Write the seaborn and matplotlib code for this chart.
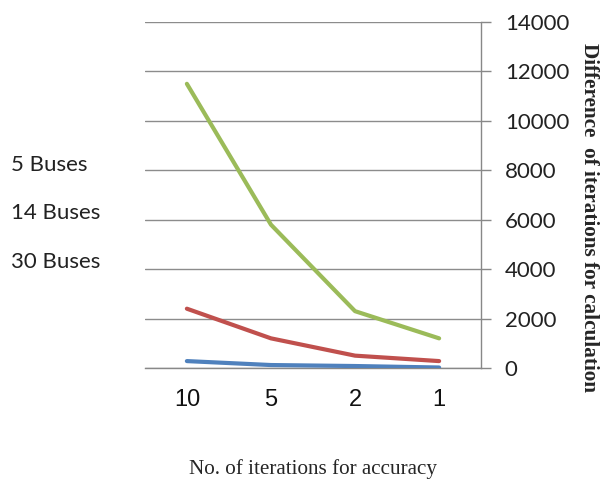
import matplotlib
matplotlib.use('Agg')
import matplotlib.pyplot as plt
import pandas as pd
import seaborn as sns
from matplotlib.ticker import FixedLocator, NullFormatter

accuracy = ['10', '5', '2', '1']
buses_5 = [280, 120, 80, 20]
buses_14 = [2400, 1200, 500, 280]
buses_30 = [11500, 5800, 2300, 1200]
series_names = ['5 Buses', '14 Buses', '30 Buses']
colors = ['#4F81BD', '#C0504D', '#9BBB59']
y_ticks = [0, 2000, 4000, 6000, 8000, 10000, 12000, 14000]

sns.set_style('white')
plt.rcParams['font.family'] = ['Lato', 'DejaVu Sans']

df = pd.DataFrame({
    'pos': list(range(len(accuracy))) * 3,
    'value': buses_5 + buses_14 + buses_30,
    'series': [s for s in series_names for _ in accuracy],
})

fig = plt.figure(figsize=(6.06, 4.82), dpi=100)
ax = fig.add_axes([0.239, 0.2365, 0.555, 0.7178])

sns.lineplot(data=df, x='pos', y='value', hue='series', hue_order=series_names,
             palette=colors, linewidth=3, ax=ax, zorder=3)

# y axis on the right, Excel style
ax.yaxis.tick_right()
ax.yaxis.set_label_position('right')
ax.set_ylim(0, 14000)
ax.set_yticks(y_ticks)
ax.set_yticklabels([str(t) for t in y_ticks], fontsize=16, color='#222222')
ax.tick_params(axis='y', direction='out', length=7, width=1, color='#888888', pad=10)
ax.grid(axis='y', color='#8c8c8c', linewidth=1)

# category axis with ticks between categories
ax.set_xlim(-0.5, len(accuracy) - 0.5)
ax.xaxis.set_major_locator(FixedLocator([i - 0.5 for i in range(len(accuracy) + 1)]))
ax.xaxis.set_major_formatter(NullFormatter())
ax.xaxis.set_minor_locator(FixedLocator(list(range(len(accuracy)))))
ax.set_xticklabels(accuracy, minor=True, fontsize=17, color='#111111',
                   family='Liberation Sans')
ax.tick_params(axis='x', which='major', direction='out', length=8, width=1, color='#888888')
ax.tick_params(axis='x', which='minor', length=0, pad=15)

for side in ['left', 'top']:
    ax.spines[side].set_visible(False)
for side in ['right', 'bottom']:
    ax.spines[side].set_color('#888888')
    ax.spines[side].set_linewidth(1)

ax.set_xlabel('No. of iterations for accuracy', fontsize=15.2, family='Liberation Serif')
ax.xaxis.set_label_coords(0.5, -0.262)
ax.set_ylabel('Difference  of iterations for calculation', fontsize=15.3,
              family='Liberation Serif', fontweight='bold', rotation=-90)
ax.yaxis.set_label_coords(1.35, 0.434)

leg = ax.legend(loc='upper left', bbox_to_anchor=(0.0, 0.7025), bbox_transform=fig.transFigure,
                frameon=False, handlelength=0, handletextpad=0, fontsize=16,
                labelspacing=1.3, borderpad=0)
for h in leg.legend_handles:
    h.set_visible(False)
for t in leg.get_texts():
    t.set_color('#222222')

fig.savefig('out.png', dpi=100)
